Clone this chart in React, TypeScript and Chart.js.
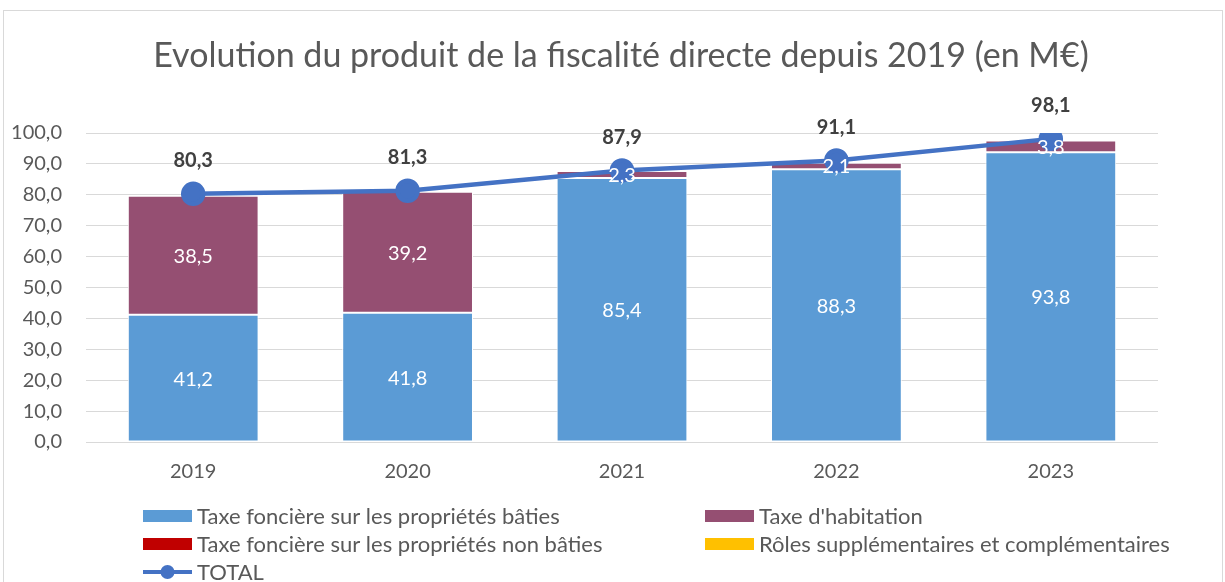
import React, { useEffect, useRef } from "react";
import { Chart, registerables } from "chart.js";

Chart.register(...registerables);

const categories = ["2019", "2020", "2021", "2022", "2023"];
const tfpb = [41.2, 41.8, 85.4, 88.3, 93.8];
const th = [38.5, 39.2, 2.3, 2.1, 3.8];
const tfpnb = [0, 0, 0, 0, 0];
const roles = [0, 0, 0, 0, 0];
const total = [80.3, 81.3, 87.9, 91.1, 98.1];
const yTicks = [0, 10, 20, 30, 40, 50, 60, 70, 80, 90, 100];

const TITLE = "Evolution du produit de la fiscalité directe depuis 2019 (en M€)";
const FONT = "Lato, Carlito, Calibri, sans-serif";
const fmt = (v: number) => v.toFixed(1).replace(".", ",");

const decorPlugin = {
  id: "decor",
  beforeDraw(chart: any) {
    const ctx = chart.ctx;
    ctx.save();
    ctx.fillStyle = "#ffffff";
    ctx.fillRect(0, 0, chart.width, chart.height);
    ctx.strokeStyle = "#D9D9D9";
    ctx.lineWidth = 1;
    ctx.strokeRect(3.5, 10.5, chart.width - 6, chart.height + 20);
    ctx.fillStyle = "#595959";
    ctx.font = `34px ${FONT}`;
    ctx.textAlign = "center";
    ctx.textBaseline = "middle";
    ctx.fillText(TITLE, 621, 56);
    ctx.restore();
  },
  afterDatasetsDraw(chart: any) {
    const ctx = chart.ctx;
    ctx.save();
    ctx.textAlign = "center";
    ctx.textBaseline = "middle";
    [0, 1].forEach((di) => {
      const meta = chart.getDatasetMeta(di);
      const data = chart.data.datasets[di].data as number[];
      meta.data.forEach((el: any, i: number) => {
        const v = data[i];
        if (!v) return;
        ctx.fillStyle = "#ffffff";
        ctx.font = `20px ${FONT}`;
        ctx.fillText(fmt(v), el.x, (el.y + el.base) / 2 + 1);
      });
    });
    const lm = chart.getDatasetMeta(4);
    lm.data.forEach((pt: any, i: number) => {
      ctx.fillStyle = "#404040";
      ctx.font = `bold 20px ${FONT}`;
      ctx.fillText(fmt(total[i]), pt.x, pt.y - 33);
    });
    ctx.restore();
  },
  afterDraw(chart: any) {
    const ctx = chart.ctx;
    ctx.save();
    ctx.font = `22px ${FONT}`;
    ctx.textBaseline = "middle";
    ctx.textAlign = "left";
    const items = [
      { ds: 0, x: 143, y: 516 },
      { ds: 1, x: 705, y: 516 },
      { ds: 2, x: 143, y: 544 },
      { ds: 3, x: 705, y: 544 },
      { ds: 4, x: 143, y: 572 },
    ];
    items.forEach((it) => {
      const d: any = chart.data.datasets[it.ds];
      if (d.type === "line") {
        ctx.strokeStyle = d.borderColor;
        ctx.lineWidth = 4;
        ctx.beginPath();
        ctx.moveTo(it.x, it.y);
        ctx.lineTo(it.x + 49, it.y);
        ctx.stroke();
        ctx.fillStyle = d.pointBackgroundColor;
        ctx.beginPath();
        ctx.arc(it.x + 24.5, it.y, 7, 0, Math.PI * 2);
        ctx.fill();
      } else {
        ctx.fillStyle = d.backgroundColor;
        ctx.fillRect(it.x, it.y - 6, 49, 12);
      }
      ctx.fillStyle = "#595959";
      ctx.fillText(d.label, it.x + 54, it.y + 1);
    });
    ctx.restore();
  },
};

export default function App() {
  const ref = useRef<HTMLCanvasElement | null>(null);
  useEffect(() => {
    document.body.style.margin = "0";
    if (!ref.current) return;
    const barCommon = {
      type: "bar" as const,
      stack: "s",
      borderColor: "#ffffff",
      borderWidth: 1,
      borderSkipped: false,
      categoryPercentage: 1,
      barPercentage: 0.61,
      order: 1,
    };
    const chart = new Chart(ref.current, {
      type: "bar",
      data: {
        labels: categories,
        datasets: [
          { ...barCommon, label: "Taxe foncière sur les propriétés bâties", data: tfpb, backgroundColor: "#5B9BD5" },
          { ...barCommon, label: "Taxe d'habitation", data: th, backgroundColor: "#954F72" },
          { ...barCommon, label: "Taxe foncière sur les propriétés non bâties", data: tfpnb, backgroundColor: "#C00000" },
          { ...barCommon, label: "Rôles supplémentaires et complémentaires", data: roles, backgroundColor: "#FFC000" },
          {
            type: "line" as const,
            label: "TOTAL",
            data: total,
            borderColor: "#4472C4",
            backgroundColor: "#4472C4",
            pointBackgroundColor: "#4472C4",
            pointBorderColor: "#4472C4",
            borderWidth: 4.5,
            pointRadius: 10,
            tension: 0,
            order: 0,
          } as any,
        ],
      },
      options: {
        responsive: false,
        animation: false,
        events: [],
        layout: { padding: { left: 0, right: 67, top: 133, bottom: 100 } },
        plugins: {
          legend: { display: false },
          title: { display: false },
          tooltip: { enabled: false },
        },
        scales: {
          x: {
            stacked: true,
            grid: { display: false, drawTicks: false },
            border: { display: false },
            ticks: { color: "#595959", font: { family: FONT, size: 20 }, padding: 18 },
            afterFit: (s: any) => { s.height = 40; },
          },
          y: {
            stacked: true,
            min: 0,
            max: 100,
            afterBuildTicks: (s: any) => { s.ticks = yTicks.map((v) => ({ value: v })); },
            grid: { color: "#D9D9D9", lineWidth: 1, drawTicks: false },
            border: { display: false },
            ticks: {
              color: "#595959",
              font: { family: FONT, size: 20 },
              padding: 24,
              callback: (v: any) => fmt(Number(v)),
            },
            afterFit: (s: any) => { s.width = 86; },
          },
        },
      },
      plugins: [decorPlugin],
    });
    return () => chart.destroy();
  }, []);
  return (
    <div style={{ width: 1225, height: 582 }}>
      <canvas ref={ref} width={1225} height={582} style={{ display: "block" }} />
    </div>
  );
}
